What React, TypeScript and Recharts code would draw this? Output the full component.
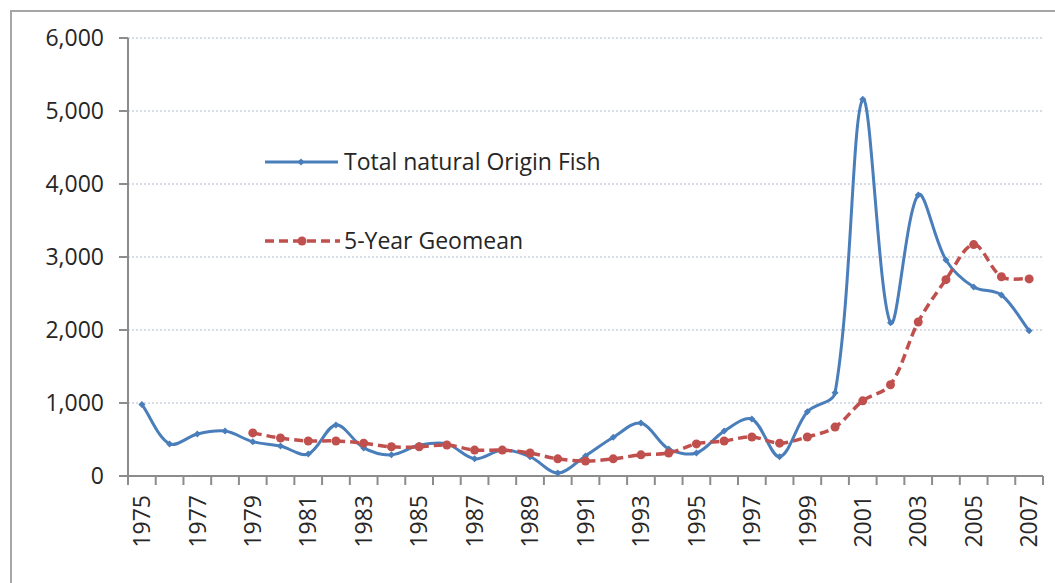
import React from "react";
import {
  LineChart,
  Line,
  XAxis,
  YAxis,
  CartesianGrid,
  Legend,
} from "recharts";

// categories + values
const years = [
  "1975", "1976", "1977", "1978", "1979", "1980", "1981", "1982", "1983", "1984", "1985",
  "1986", "1987", "1988", "1989", "1990", "1991", "1992", "1993", "1994", "1995", "1996",
  "1997", "1998", "1999", "2000", "2001", "2002", "2003", "2004", "2005", "2006", "2007",
];

const totalFish = [
  980, 440, 575, 615, 470, 410, 300, 700, 385, 290, 420,
  440, 235, 355, 265, 40, 275, 530, 725, 370, 315, 615,
  780, 265, 880, 1140, 5160, 2100, 3850, 2960, 2590, 2480, 1990,
];

const geomean: (number | null)[] = [
  null, null, null, null, 590, 520, 480, 480, 450, 400, 400,
  425, 355, 355, 315, 235, 205, 235, 290, 315, 440, 480,
  535, 450, 535, 670, 1030, 1250, 2110, 2690, 3170, 2730, 2700,
];

const yTicks = [0, 1000, 2000, 3000, 4000, 5000, 6000];

const data = years.map((year, i) => ({
  year,
  total: totalFish[i],
  geo: geomean[i],
}));

const W = 1055;
const H = 583;
const MARGIN = { top: 38, right: 12, bottom: 27, left: 0 };
const Y_AXIS_W = 128;
const PLOT_W = W - MARGIN.left - MARGIN.right - Y_AXIS_W;
const BAND = PLOT_W / years.length;

const BLUE = "#4a7ebb";
const RED = "#c0504d";
const AXIS = "#8c8c8c";
const TEXT = "#262626";
const FONT = "'Open Sans', sans-serif";
const FS = 23;

// smoothed line like Excel's: bezier segments, tangents weighted by chord length
function excelSmooth(context: any) {
  let pts: number[][] = [];
  const dist = (a: number[], b: number[]) => Math.hypot(b[0] - a[0], b[1] - a[1]) || 1;
  return {
    areaStart() {},
    areaEnd() {},
    lineStart() {
      pts = [];
    },
    lineEnd() {
      const n = pts.length;
      if (!n) return;
      context.moveTo(pts[0][0], pts[0][1]);
      for (let i = 0; i < n - 1; i++) {
        const p0 = pts[i - 1] || pts[i];
        const p1 = pts[i];
        const p2 = pts[i + 1];
        const p3 = pts[i + 2] || p2;
        const d01 = pts[i - 1] ? dist(p0, p1) : 0;
        const d12 = dist(p1, p2);
        const d23 = pts[i + 2] ? dist(p2, p3) : 0;
        const k1 = d12 / (3 * (d01 + d12));
        const k2 = d12 / (3 * (d12 + d23));
        context.bezierCurveTo(
          p1[0] + (p2[0] - p0[0]) * k1,
          p1[1] + (p2[1] - p0[1]) * k1,
          p2[0] - (p3[0] - p1[0]) * k2,
          p2[1] - (p3[1] - p1[1]) * k2,
          p2[0],
          p2[1]
        );
      }
    },
    point(x: number, y: number) {
      pts.push([+x, +y]);
    },
  };
}

const Diamond = (props: any) => {
  const { cx, cy, index } = props;
  if (cx == null || cy == null) return <g key={`d-${index}`} />;
  const s = 3.5;
  return (
    <path
      key={`d-${index}`}
      d={`M${cx},${cy - s}L${cx + s},${cy}L${cx},${cy + s}L${cx - s},${cy}Z`}
      fill={BLUE}
      stroke="none"
    />
  );
};

// ticks sit between categories, labels on every other category
const XTick = (props: any) => {
  const { x, y, payload, index } = props;
  const last = index === years.length - 1;
  return (
    <g>
      <line x1={x - BAND / 2} y1={y} x2={x - BAND / 2} y2={y + 9} stroke={AXIS} strokeWidth={2} />
      {last && (
        <line x1={x + BAND / 2} y1={y} x2={x + BAND / 2} y2={y + 9} stroke={AXIS} strokeWidth={2} />
      )}
      {index % 2 === 0 && (
        <text
          x={x}
          y={y + 19}
          dy="0.36em"
          transform={`rotate(-90, ${x}, ${y + 19})`}
          textAnchor="end"
          fill={TEXT}
          fontSize={FS}
          fontFamily={FONT}
        >
          {payload.value}
        </text>
      )}
    </g>
  );
};

const renderLegend = () => (
  <svg width={400} height={130}>
    <line x1={5} y1={22} x2={78} y2={22} stroke={BLUE} strokeWidth={3} />
    <path d="M41,18.5L44.5,22L41,25.5L37.5,22Z" fill={BLUE} />
    <text x={84} y={22} dy="0.35em" fontSize={FS} fontFamily={FONT} fill={TEXT}>
      Total natural Origin Fish
    </text>
    <line x1={5} y1={101} x2={80} y2={101} stroke={RED} strokeWidth={3.5} strokeDasharray="9 5" />
    <circle cx={42} cy={101} r={4.5} fill={RED} />
    <text x={84} y={101} dy="0.35em" fontSize={FS} fontFamily={FONT} fill={TEXT}>
      5-Year Geomean
    </text>
  </svg>
);

export default function App() {
  return (
    <div style={{ position: "absolute", left: 0, top: 0, width: W, height: H, overflow: "hidden", background: "#fff" }}>
      <div
        style={{
          position: "absolute",
          left: 10,
          top: 10,
          width: W,
          height: H,
          borderLeft: "2px solid #a6a6a6",
          borderTop: "2px solid #a6a6a6",
        }}
      />
      <div style={{ position: "absolute", left: 0, top: 0 }}>
        <LineChart width={W} height={H} data={data} margin={MARGIN}>
          <CartesianGrid vertical={false} stroke="#aebbd0" strokeDasharray="2 2" />
          <XAxis
            dataKey="year"
            scale="band"
            interval={0}
            height={80}
            axisLine={{ stroke: AXIS, strokeWidth: 2 }}
            tickLine={false}
            tickSize={0}
            tickMargin={0}
            tick={<XTick />}
          />
          <YAxis
            width={Y_AXIS_W}
            domain={[0, 6000]}
            ticks={yTicks}
            interval={0}
            axisLine={{ stroke: AXIS, strokeWidth: 2 }}
            tickLine={{ stroke: AXIS, strokeWidth: 2 }}
            tickSize={9}
            tickMargin={15}
            tick={{ fill: TEXT, fontSize: FS, fontFamily: FONT }}
            tickFormatter={(v: number) => v.toLocaleString("en-US")}
          />
          <Legend
            layout="vertical"
            verticalAlign="middle"
            align="center"
            content={renderLegend}
            wrapperStyle={{ left: 260, top: 140, width: 400 }}
          />
          <Line
            dataKey="total"
            name="Total natural Origin Fish"
            type={excelSmooth as any}
            stroke={BLUE}
            strokeWidth={3}
            dot={Diamond}
            activeDot={false}
            isAnimationActive={false}
          />
          <Line
            dataKey="geo"
            name="5-Year Geomean"
            type={excelSmooth as any}
            stroke={RED}
            strokeWidth={3.5}
            strokeDasharray="9 5"
            dot={{ r: 4.5, fill: RED, stroke: "none", strokeDasharray: "0" }}
            activeDot={false}
            isAnimationActive={false}
          />
        </LineChart>
      </div>
    </div>
  );
}
